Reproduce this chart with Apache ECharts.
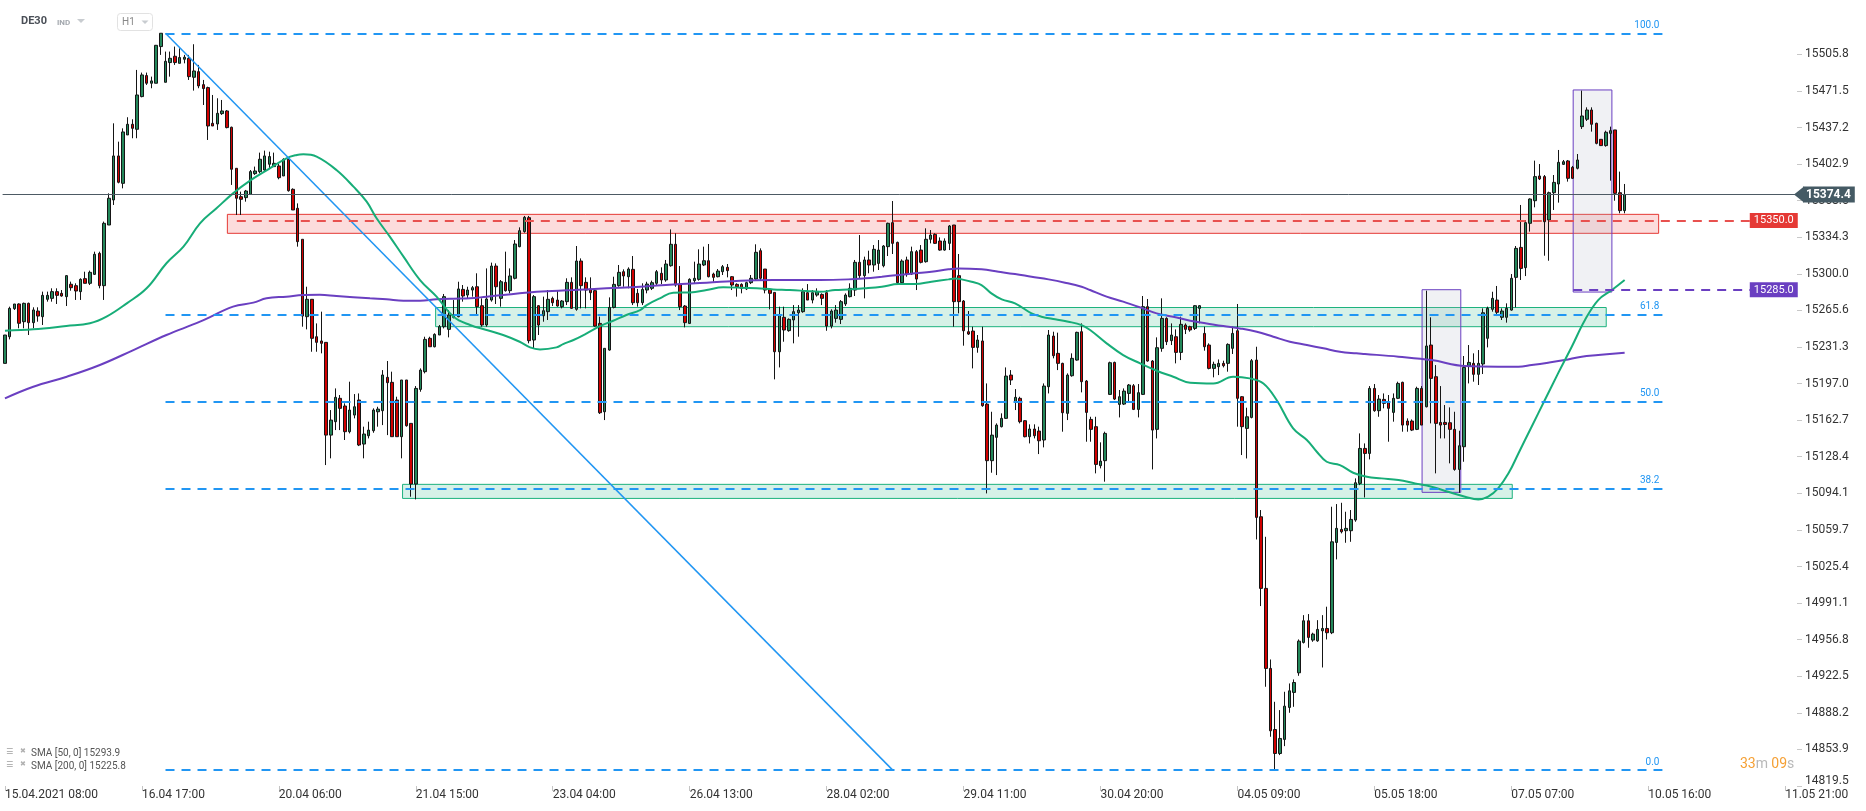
<!DOCTYPE html>
<html><head><meta charset="utf-8">
<script src="https://cdn.jsdelivr.net/npm/echarts@6/dist/echarts.min.js"></script>
<style>html,body{margin:0;padding:0;background:#fff;}#c{width:1866px;height:811px;}</style>
</head><body><div id="c"></div>
<script>
// ---- data ----
const xTickLabels = ['15.04.2021 08:00','16.04 17:00','20.04 06:00','21.04 15:00','23.04 04:00','26.04 13:00','28.04 02:00','29.04 11:00','30.04 20:00','04.05 09:00','05.05 18:00','07.05 07:00','10.05 16:00','11.05 21:00'];
const labelEvery = 29;
const slotCount = 380;
const yTicks = [14819.5,14853.9,14888.2,14922.5,14956.8,14991.1,15025.4,15059.7,15094.1,15128.4,15162.7,15197.0,15231.3,15265.6,15300.0,15334.3,15368.6,15402.9,15437.2,15471.5,15505.8];
// [open, close, low, high]
const candles = [
[15216.0,15242.6,15216.0,15242.6],[15241.0,15267.6,15238.5,15269.2],[15267.3,15271.7,15266.1,15271.7],[15271.7,15253.6,15248.9,15272.3],[15255.1,15272.3,15248.9,15273.0],
[15272.3,15254.2,15242.6,15273.0],[15254.2,15266.1,15248.9,15268.6],[15265.1,15260.4,15255.1,15268.6],[15259.8,15279.8,15252.0,15283.3],[15276.1,15279.8,15273.9,15283.3],
[15277.0,15283.3,15273.9,15286.4],[15283.3,15279.8,15271.7,15286.4],[15281.7,15279.2,15278.6,15284.8],[15278.6,15298.3,15269.8,15298.9],[15290.2,15287.0,15284.2,15292.7],
[15288.9,15283.9,15275.5,15291.1],[15283.3,15294.8,15275.5,15295.8],[15295.5,15291.1,15291.1,15302.0],[15291.1,15301.4,15289.5,15303.0],[15299.5,15318.3,15298.9,15320.8],
[15319.2,15288.9,15286.4,15320.8],[15288.9,15347.4,15275.5,15349.0],[15345.8,15370.9,15345.8,15375.5],[15369.3,15410.6,15364.6,15441.2],[15410.6,15385.9,15384.9,15424.0],
[15384.9,15433.1,15380.2,15436.5],[15430.3,15440.3,15430.3,15446.9],[15440.3,15436.5,15427.2,15445.0],[15435.6,15467.8,15427.2,15491.3],[15466.3,15486.6,15465.6,15488.8],
[15486.0,15478.8,15477.2,15488.8],[15478.8,15481.0,15474.1,15485.0],[15478.8,15514.4,15478.8,15514.7],[15513.2,15525.7,15505.4,15525.7],[15479.7,15499.4,15479.7,15508.5],
[15498.2,15502.2,15485.0,15508.5],[15504.1,15498.2,15496.0,15513.2],[15497.5,15502.9,15497.5,15511.6],[15501.3,15503.2,15497.5,15505.4],[15502.2,15485.0,15481.9,15505.4],
[15484.4,15490.3,15471.9,15515.4],[15489.7,15476.3,15474.1,15496.0],[15477.5,15473.8,15458.4,15481.9],[15474.7,15438.7,15425.6,15475.6],[15441.2,15438.7,15438.7,15467.8],
[15440.6,15450.6,15435.0,15464.7],[15450.3,15452.8,15449.1,15463.1],[15452.8,15437.2,15436.5,15453.7],[15437.5,15398.1,15383.4,15438.1],[15399.0,15370.9,15355.2,15399.0],
[15372.4,15369.9,15355.2,15377.1],[15371.5,15377.7,15367.7,15378.7],[15374.6,15395.9,15374.0,15397.4],[15394.0,15396.5,15392.8,15400.6],[15395.9,15407.5,15394.3,15413.7],
[15397.4,15410.6,15395.9,15415.6],[15402.8,15410.0,15399.0,15414.6],[15400.6,15403.7,15400.6,15413.7],[15401.2,15390.2,15388.7,15403.1],[15391.8,15407.4,15391.8,15408.4],
[15407.4,15378.0,15377.1,15408.4],[15379.3,15359.9,15359.9,15380.2],[15361.5,15330.2,15325.5,15366.1],[15332.4,15260.4,15250.4,15332.4],[15259.8,15276.1,15247.9,15287.9],
[15276.1,15239.5,15226.9,15276.1],[15241.0,15235.7,15226.9,15253.5],[15237.0,15234.8,15225.4,15264.5],[15235.7,15148.7,15120.6,15235.7],[15148.7,15162.8,15126.9,15172.2],
[15161.3,15184.1,15153.4,15192.5],[15183.2,15173.8,15153.4,15186.3],[15176.0,15151.9,15144.1,15178.5],[15151.9,15172.2,15150.3,15198.8],[15167.5,15175.3,15164.4,15187.2],
[15181.6,15139.4,15138.4,15187.8],[15140.3,15149.7,15126.9,15156.6],[15148.1,15153.4,15145.6,15161.3],[15152.8,15172.2,15150.9,15173.8],[15170.6,15173.1,15156.6,15175.3],
[15171.6,15205.1,15158.1,15209.7],[15202.9,15197.9,15148.7,15218.2],[15198.2,15147.2,15147.2,15208.2],[15181.6,15147.2,15147.2,15184.7],[15147.2,15200.4,15126.9,15200.4],
[15200.4,15157.5,15156.6,15200.4],[15159.7,15102.8,15090.9,15159.7],[15102.8,15192.5,15088.4,15194.7],[15191.6,15209.7,15189.4,15211.3],[15208.2,15238.5,15206.6,15241.0],
[15239.5,15231.6,15231.6,15241.0],[15231.6,15243.2,15231.0,15244.2],[15242.6,15250.4,15242.6,15252.0],[15250.4,15278.6,15248.8,15281.1],[15247.9,15261.4,15240.4,15266.0],
[15259.2,15261.7,15258.2,15275.4],[15259.8,15285.8,15259.2,15292.6],[15285.4,15279.2,15273.9,15289.5],[15280.1,15284.8,15277.0,15287.9],[15284.8,15287.0,15278.6,15288.6],
[15287.9,15269.2,15261.4,15300.5],[15270.1,15252.0,15250.4,15277.0],[15252.0,15276.4,15250.4,15305.1],[15275.4,15307.3,15273.9,15310.5],[15307.3,15287.9,15271.7,15309.8],
[15277.0,15292.6,15269.2,15294.2],[15292.0,15284.2,15283.3,15320.8],[15284.2,15298.0,15281.7,15305.1],[15295.8,15328.0,15294.8,15331.7],[15325.5,15340.5,15324.9,15343.6],
[15339.6,15353.0,15338.6,15354.3],[15352.7,15237.3,15234.8,15354.3],[15237.9,15278.6,15230.1,15280.1],[15270.1,15252.0,15242.6,15270.7],[15260.7,15265.4,15255.1,15278.6],
[15264.5,15276.1,15256.7,15284.8],[15277.0,15272.9,15269.8,15278.6],[15275.4,15269.8,15269.2,15284.8],[15269.2,15274.5,15267.6,15275.4],[15273.9,15292.0,15270.7,15295.8],
[15292.0,15267.6,15267.0,15296.7],[15266.7,15312.0,15265.4,15326.1],[15312.0,15288.9,15267.6,15314.5],[15292.0,15284.8,15267.6,15296.7],[15285.8,15282.3,15275.4,15296.7],
[15284.2,15251.0,15250.4,15284.8],[15253.5,15169.7,15168.5,15259.8],[15170.6,15230.1,15162.8,15230.1],[15228.5,15268.5,15227.9,15277.9],[15268.5,15290.1,15267.6,15297.3],
[15288.9,15301.4,15287.9,15308.3],[15302.0,15298.0,15287.9,15304.2],[15297.3,15304.5,15286.4,15306.1],[15304.2,15272.9,15270.7,15316.7],[15281.7,15272.9,15269.2,15285.8],
[15272.9,15285.4,15270.7,15291.1],[15284.8,15290.4,15281.7,15292.6],[15286.4,15291.7,15284.8,15293.6],[15291.1,15302.0,15289.5,15303.6],[15300.5,15294.2,15290.4,15306.1],
[15294.2,15309.2,15292.6,15313.0],[15307.6,15327.7,15306.7,15341.7],[15327.7,15289.5,15287.9,15338.0],[15290.1,15269.2,15266.0,15307.3],[15269.8,15254.2,15249.8,15270.7],
[15253.5,15294.8,15252.9,15295.8],[15293.6,15295.8,15291.1,15311.4],[15294.8,15309.2,15293.6,15323.0],[15308.3,15312.3,15307.3,15325.5],[15312.3,15297.3,15296.7,15328.0],
[15299.8,15296.7,15292.6,15301.1],[15297.3,15302.6,15296.7,15304.5],[15302.0,15306.7,15298.9,15308.3],[15306.1,15303.0,15296.7,15309.2],[15297.3,15289.5,15284.8,15297.9],
[15290.1,15287.9,15278.6,15291.1],[15290.1,15286.4,15281.7,15291.1],[15285.8,15291.7,15284.8,15292.6],[15291.7,15295.8,15290.4,15298.9],[15295.1,15320.2,15294.2,15327.7],
[15321.7,15295.8,15294.2,15323.9],[15304.5,15284.8,15281.7,15304.5],[15285.4,15281.7,15266.7,15286.4],[15282.6,15226.9,15201.0,15282.6],[15226.9,15261.4,15212.2,15269.2],
[15259.2,15247.3,15236.3,15269.2],[15246.7,15257.3,15245.7,15258.2],[15256.7,15264.5,15234.8,15270.7],[15263.5,15266.0,15241.0,15270.7],[15264.5,15283.3,15263.5,15286.4],
[15282.3,15275.4,15275.4,15290.4],[15275.4,15282.3,15272.3,15284.8],[15280.1,15283.2,15278.6,15286.4],[15280.7,15277.0,15270.7,15281.7],[15282.3,15251.0,15246.6,15284.8],
[15251.0,15265.1,15248.8,15266.7],[15258.2,15266.0,15254.2,15270.7],[15257.3,15273.9,15252.9,15275.4],[15271.7,15280.1,15269.8,15281.7],[15278.6,15286.4,15277.9,15291.1],
[15284.8,15310.8,15279.2,15313.0],[15310.8,15298.3,15295.1,15336.4],[15298.3,15313.0,15277.0,15316.1],[15313.0,15308.3,15300.5,15321.7],[15308.3,15323.0,15302.0,15327.0],
[15309.8,15322.3,15303.6,15331.7],[15307.6,15326.1,15306.1,15327.0],[15325.5,15347.4,15316.7,15348.0],[15348.0,15328.6,15318.6,15368.3],[15329.5,15291.7,15290.4,15330.2],
[15291.7,15312.0,15291.1,15313.6],[15313.0,15299.8,15297.3,15316.1],[15299.8,15320.8,15298.9,15325.5],[15320.8,15295.1,15284.8,15322.3],[15322.3,15310.8,15309.8,15327.0],
[15311.4,15332.4,15310.5,15342.7],[15332.4,15336.4,15328.6,15341.1],[15337.0,15328.6,15328.0,15338.0],[15330.8,15322.3,15321.7,15334.2],[15322.3,15330.8,15321.7,15333.3],
[15328.6,15344.9,15322.3,15345.8],[15345.8,15273.9,15250.4,15345.8],[15298.3,15273.9,15262.9,15318.6],[15274.5,15246.6,15232.6,15275.4],[15245.7,15243.5,15242.6,15265.1],
[15246.3,15231.0,15211.3,15250.4],[15231.0,15237.9,15226.0,15242.6],[15237.0,15176.3,15175.3,15250.4],[15177.8,15124.7,15094.0,15197.2],[15124.7,15148.7,15113.4,15170.6],
[15146.6,15158.1,15111.2,15159.7],[15156.6,15164.4,15155.9,15169.1],[15164.4,15204.1,15163.8,15212.2],[15205.0,15200.4,15195.7,15209.7],[15179.4,15184.1,15172.2,15191.9],
[15183.2,15161.3,15159.7,15184.7],[15162.2,15147.2,15146.6,15162.8],[15147.2,15154.4,15140.9,15158.8],[15154.4,15148.1,15145.6,15158.8],[15152.5,15143.4,15130.9,15156.6],
[15144.1,15194.7,15137.2,15197.2],[15194.1,15242.6,15187.8,15247.3],[15241.6,15223.2,15220.7,15245.7],[15225.4,15216.0,15209.7,15244.8],[15216.0,15169.7,15151.9,15216.6],
[15169.1,15205.0,15162.8,15206.6],[15204.4,15220.7,15203.5,15225.4],[15219.1,15245.1,15218.5,15245.7],[15245.7,15198.8,15188.8,15253.5],[15199.4,15170.0,15142.5,15200.4],
[15163.4,15154.1,15142.5,15165.9],[15156.6,15121.2,15112.8,15165.9],[15120.0,15124.3,15117.5,15141.9],[15124.7,15150.3,15105.0,15151.9],[15186.9,15216.6,15186.3,15217.6],
[15216.9,15182.5,15181.6,15217.6],[15177.5,15184.7,15165.3,15191.0],[15177.8,15190.0,15176.9,15192.5],[15187.8,15195.7,15179.1,15196.6],[15195.0,15172.8,15172.2,15196.6],
[15172.8,15188.5,15165.3,15196.6],[15186.9,15269.2,15186.3,15279.2],[15269.2,15218.2,15217.6,15276.4],[15218.2,15153.4,15116.5,15219.1],[15154.1,15230.7,15145.6,15240.4],
[15230.1,15258.2,15226.9,15277.0],[15258.2,15236.3,15233.2,15259.2],[15237.3,15242.6,15233.2,15253.5],[15241.0,15226.3,15216.0,15247.9],[15226.3,15252.6,15219.1,15259.8],
[15252.0,15247.9,15243.5,15253.5],[15250.4,15247.3,15245.7,15251.3],[15248.8,15270.1,15247.3,15270.7],[15267.6,15270.1,15253.5,15270.7],[15244.1,15231.6,15227.9,15250.4],
[15233.2,15211.3,15210.4,15234.8],[15211.3,15215.1,15202.9,15217.6],[15212.9,15216.0,15205.0,15219.7],[15216.0,15213.8,15212.2,15218.5],[15216.0,15233.8,15208.2,15234.8],
[15230.1,15244.1,15224.8,15250.4],[15246.6,15183.2,15156.6,15271.7],[15184.7,15156.6,15130.0,15185.3],[15155.0,15165.9,15126.8,15174.4],[15165.3,15218.5,15164.4,15220.1],
[15219.1,15071.5,15050.8,15231.6],[15072.1,15004.9,14988.3,15078.4],[15004.9,14929.8,14912.6,15053.3],[14929.8,14871.3,14865.7,14938.2],[14872.5,14850.0,14835.0,14898.5],
[14850.0,14864.1,14848.5,14890.7],[14863.2,14894.4,14856.9,14907.9],[14893.2,14908.8,14888.2,14915.7],[14907.3,14916.6,14893.8,14919.5],[14925.7,14955.4,14922.9,14957.0],
[14954.2,14974.5,14953.2,14979.8],[14974.5,14958.9,14949.2,14980.8],[14956.4,14962.0,14954.8,14963.3],[14955.7,14966.4,14954.8,14975.1],[14965.1,14967.3,14930.7,14979.8],
[14967.3,14963.3,14957.0,14987.7],[14963.3,15048.6,14962.0,15081.5],[15048.0,15061.2,15032.1,15084.0],[15060.2,15058.0,15056.5,15085.2],[15059.0,15061.2,15047.7,15076.8],
[15059.0,15069.6,15048.6,15078.4],[15069.0,15104.0,15067.4,15108.1],[15103.4,15136.2,15101.8,15150.3],[15136.2,15131.5,15090.2,15140.9],[15131.5,15192.5,15125.9,15194.7],
[15192.5,15171.6,15170.6,15196.6],[15171.6,15182.5,15165.9,15186.3],[15182.2,15178.5,15173.8,15187.8],[15180.0,15173.8,15142.5,15186.3],[15170.0,15183.2,15161.3,15187.8],
[15183.2,15197.2,15182.5,15198.8],[15198.2,15158.1,15151.9,15198.8],[15161.9,15158.1,15151.9,15164.4],[15161.9,15153.4,15152.5,15163.4],[15154.1,15192.5,15153.4,15194.1],
[15192.5,15158.1,15158.1,15194.7],[15175.3,15232.3,15174.7,15284.2],[15233.2,15201.9,15159.7,15259.2],[15203.5,15159.7,15112.8,15214.4],[15160.6,15158.1,15145.6,15194.7],
[15160.6,15158.7,15145.6,15176.9],[15160.3,15154.1,15122.2,15174.7],[15154.1,15116.5,15115.3,15170.6],[15116.5,15138.7,15094.6,15152.8],[15137.8,15212.2,15123.7,15222.9],
[15213.5,15216.9,15197.2,15233.2],[15216.0,15205.7,15198.8,15225.4],[15205.7,15216.0,15195.7,15228.5],[15215.4,15263.5,15206.0,15267.6],[15239.5,15267.6,15231.0,15269.2],
[15266.7,15277.0,15264.5,15283.2],[15275.4,15263.9,15260.4,15288.6],[15259.2,15265.1,15256.7,15267.6],[15259.2,15267.6,15254.2,15272.3],[15266.0,15295.8,15265.4,15299.8],
[15296.7,15323.9,15268.5,15326.1],[15324.8,15305.1,15294.2,15364.6],[15305.8,15348.0,15297.9,15350.5],[15347.4,15370.2,15339.6,15370.8],[15368.6,15391.2,15362.4,15406.2],
[15391.8,15389.0,15388.0,15403.0],[15391.2,15348.9,15317.0,15392.7],[15350.5,15376.1,15312.3,15377.1],[15376.1,15385.8,15359.9,15392.7],[15384.3,15404.6,15366.8,15416.2],
[15402.7,15405.2,15402.1,15406.8],[15405.9,15389.6,15386.5,15406.8],[15399.9,15389.6,15389.0,15401.2],[15399.0,15406.8,15398.0,15412.4],[15438.1,15448.1,15435.9,15471.9],
[15445.0,15453.7,15443.4,15456.2],[15453.7,15440.3,15433.4,15456.2],[15441.2,15422.4,15421.5,15441.8],[15426.2,15420.3,15419.9,15426.2],[15420.3,15432.8,15419.3,15434.3],
[15431.8,15434.3,15387.4,15438.1],[15435.0,15375.5,15368.6,15435.0],[15376.1,15359.3,15356.8,15395.9],[15359.3,15374.4,15356.8,15384.3]
];
// moving averages read at sample points: [candle index, value]
const sma50 = [[0,15246.7],[6,15247.9],[13,15251.1],[18,15253.6],[21.5,15259.8],[25.8,15272.3],[30,15286.4],[34.2,15309.9],[37.8,15325.5],[41.3,15347.4],[44.8,15361.5],[48.3,15375.5],[51.9,15387.4],[55.4,15397.0],[59.6,15408.4],[61.8,15411.5],[63.2,15412.1],[66,15409.9],[70.2,15397.4],[73.8,15381.8],[76.6,15367.7],[78.7,15352.1],[81.5,15334.9],[84.4,15316.1],[87.9,15294.2],[91.4,15278.6],[95,15259.8],[98.5,15252.0],[102,15247.3],[105.5,15242.6],[109,15236.3],[111.2,15231.0],[113.3,15229.1],[116.8,15231.0],[118.2,15234.1],[120.4,15237.9],[123.2,15244.1],[126,15251.0],[128.8,15256.0],[131.6,15261.4],[134.5,15266.0],[135.9,15270.7],[138.7,15277.0],[141.5,15282.3],[145.1,15282.6],[148.6,15284.8],[152.1,15287.3],[155.7,15287.0],[159.2,15286.4],[162.7,15285.4],[166.2,15284.8],[169.8,15283.9],[172.6,15283.2],[175.8,15284.8],[178.6,15285.4],[182.1,15286.4],[185.7,15287.9],[189.2,15290.4],[192.7,15290.4],[196.2,15292.6],[199.8,15294.8],[201.2,15295.7],[202.6,15294.8],[204.7,15292.6],[206.8,15289.5],[208.9,15281.7],[211.1,15276.0],[213.9,15272.3],[217.4,15262.9],[219.5,15259.8],[222.4,15257.3],[225.2,15255.1],[228,15251.9],[229.8,15247.3],[233.3,15234.8],[236.8,15223.8],[240.4,15216.0],[243.9,15209.1],[247.4,15203.5],[251,15197.9],[255.9,15197.2],[260.1,15203.5],[263.6,15201.9],[266.5,15197.2],[269.3,15181.6],[272.8,15155.0],[275.7,15144.1],[277.8,15133.1],[279.9,15123.7],[282.7,15120.6],[285.5,15113.4],[288.4,15109.6],[291.5,15108.1],[295.1,15106.5],[298.6,15103.4],[302.1,15100.3],[305.6,15095.6],[309.2,15090.9],[312,15088.4],[314.1,15090.9],[316.2,15098.7],[318.4,15112.8],[320.5,15131.5],[323.3,15156.6],[326.1,15181.6],[328.9,15206.6],[331.8,15231.6],[334.6,15256.7],[337.4,15275.4],[340.3,15284.8],[343,15294.2]];
const sma200 = [[0,15183.2],[6,15194.1],[13.1,15203.5],[20.1,15214.5],[27.2,15228.5],[34.2,15242.6],[41.3,15255.1],[48.3,15269.2],[52.6,15273.0],[55.4,15277.0],[59.6,15278.6],[63.2,15280.1],[66.7,15280.4],[70.2,15279.2],[77.3,15277.0],[80.8,15276.1],[84.4,15274.8],[87.9,15274.8],[91.4,15276.1],[95,15276.7],[98.5,15277.0],[102,15278.6],[105.5,15280.1],[109,15281.7],[112.6,15283.2],[120.4,15284.8],[127.4,15286.4],[134.5,15287.9],[141.5,15290.1],[148.6,15291.7],[155.7,15293.6],[162.7,15294.2],[172.6,15294.2],[178.6,15294.8],[182.1,15295.8],[185.7,15297.3],[189.2,15298.9],[192.7,15300.5],[196.2,15302.0],[199.8,15304.2],[201.9,15305.1],[206.8,15304.2],[210.4,15302.0],[213.9,15299.8],[217.4,15297.3],[221,15294.8],[224.5,15291.7],[228,15287.9],[229.8,15284.8],[233.3,15278.6],[236.8,15273.9],[240.4,15268.5],[243.9,15262.9],[247.4,15259.8],[251,15256.0],[254.5,15253.5],[258,15251.0],[261.5,15248.8],[265.1,15245.7],[268.6,15241.0],[272.1,15236.3],[275.7,15233.2],[279.2,15230.1],[282.7,15226.9],[286.2,15225.4],[288,15224.8],[295.1,15222.3],[302.1,15219.1],[309.2,15213.5],[316.2,15212.9],[320.5,15212.9],[323.3,15214.4],[326.8,15216.6],[330.3,15219.1],[333.9,15222.3],[337.4,15223.8],[343,15226.0]];
const fibNames = ['100.0','61.8','50.0','38.2','0.0'];
const fibLevels = [15525.7,15261.6,15180.1,15098.5,14834.4];
const fibSpan = [34, 351];
const trendLine = [[34, 15525.7],[188, 14834.4]];
const redZone = [47.1, 350.2, 15338.0, 15355.8];
const greenZones = [[91.2, 339.1, 15250.4, 15268.4],[84.2, 319.2, 15089.3, 15102.5]];
const boxes = [[300.1, 308.3, 15095.0, 15285.1],[332.1, 340.3, 15282.9, 15472.5]];
const redLevel = {price: 15350.0, from: 49.1, to: 369.5};
const purpleLevel = {price: 15285.0, from: 332.1, to: 369.5};
const lastPrice = 15374.4;
const smaLegend = ['SMA [50, 0] 15293.9','SMA [200, 0] 15225.8'];

// ---- chart ----
const categories = Array.from({length: slotCount}, (_, i) => (i % labelEvery === 0 && xTickLabels[i / labelEvery]) ? xTickLabels[i / labelEvery] : ('#' + i));
const showTick = (idx) => idx % labelEvery === 0 && idx / labelEvery < xTickLabels.length;
const FONT = 'Roboto';

function areaItem(r, fill, border) {
  return [{coord: [r[0], r[3]], itemStyle: {color: fill, borderColor: border, borderWidth: 1}}, {coord: [r[1], r[2]]}];
}
function levelLine(lv, color, bg) {
  return [{coord: [lv.from, lv.price], lineStyle: {color: color, type: [9, 7], width: 2},
    label: {show: true, position: 'end', distance: 0, formatter: lv.price.toFixed(1), backgroundColor: bg, color: '#fff',
      fontSize: 11, fontFamily: FONT, padding: [2, 4, 2, 4], lineHeight: 11}}, {coord: [lv.to, lv.price]}];
}

const chart = echarts.init(document.getElementById('c'), null, {width: 1866, height: 811});
chart.setOption({
  animation: false,
  backgroundColor: '#fff',
  textStyle: {fontFamily: FONT},
  grid: {left: 2.6, top: 0, width: 1794.4, height: 786},
  xAxis: [{
    type: 'category', data: categories, boundaryGap: true,
    axisLine: {show: false, onZero: false},
    axisTick: {show: true, alignWithLabel: true, interval: showTick, length: 5, lineStyle: {color: '#c4c4c4'}},
    axisLabel: {interval: showTick, align: 'left', color: '#333', fontSize: 12, margin: 3, fontFamily: FONT},
    splitLine: {show: false}
  }, {
    type: 'value', min: -0.5, max: slotCount - 0.5, show: false, axisLine: {onZero: false}
  }],
  yAxis: {
    type: 'value', position: 'right', min: 14819.5, max: 15556.9,
    splitLine: {show: false}, axisLine: {show: false, onZero: false},
    axisTick: {show: true, length: 5, customValues: yTicks, lineStyle: {color: '#c8c8c8'}},
    axisLabel: {customValues: yTicks, margin: 8, color: '#333', fontSize: 12, fontFamily: FONT,
      formatter: (v) => v === yTicks[0] ? '{lo|' + v.toFixed(1) + '}' : v.toFixed(1),
      rich: {lo: {fontSize: 12, color: '#333', fontFamily: FONT, padding: [0, 0, 10, 0]}}}
  },
  series: [
    { // zones and boxes
      type: 'line', xAxisIndex: 1, data: [], z: 1, silent: true,
      markArea: {silent: true, data: [
        areaItem(redZone, 'rgba(240,80,80,0.2)', '#e53935'),
        areaItem(greenZones[0], 'rgba(38,178,128,0.19)', '#1db27e'),
        areaItem(greenZones[1], 'rgba(38,178,128,0.19)', '#1db27e'),
        areaItem(boxes[0], 'rgba(170,178,195,0.18)', '#6a3fc1'),
        areaItem(boxes[1], 'rgba(170,178,195,0.18)', '#6a3fc1')
      ]}
    },
    {
      type: 'candlestick', name: 'DE30', data: candles, barWidth: 3, z: 2,
      itemStyle: {color: '#23875a', color0: '#d00000', borderColor: '#151515', borderColor0: '#151515', borderWidth: 1}
    },
    {
      type: 'line', name: 'SMA200', xAxisIndex: 1, data: sma200, smooth: 0.4, showSymbol: false, z: 3,
      lineStyle: {color: '#6a3fc1', width: 2}
    },
    {
      type: 'line', name: 'SMA50', xAxisIndex: 1, data: sma50, smooth: 0.4, showSymbol: false, z: 3,
      lineStyle: {color: '#17ad78', width: 2}
    },
    { // lines, levels, labels
      type: 'line', xAxisIndex: 1, data: [], z: 4, silent: true,
      markLine: {
        silent: true, symbol: ['none', 'none'],
        data: [
          ...fibLevels.map((v, k) => [{coord: [fibSpan[0], v], lineStyle: {color: '#2196f3', type: [9, 7], width: 2},
            label: {show: true, position: 'insideEndTop', distance: 3, formatter: fibNames[k], color: '#2196f3', fontSize: 10, fontFamily: FONT}},
            {coord: [fibSpan[1], v]}]),
          [{coord: trendLine[0], lineStyle: {color: '#2196f3', type: 'solid', width: 1.5}, label: {show: false}}, {coord: trendLine[1]}],
          levelLine(redLevel, '#e8514f', '#e53935'),
          levelLine(purpleLevel, '#6a3fc1', '#6a3fc1'),
          {yAxis: lastPrice, lineStyle: {color: '#4d5a64', type: 'solid', width: 1},
            label: {show: true, position: 'end', distance: 6, formatter: lastPrice.toFixed(1), backgroundColor: '#455a64', color: '#fff',
              fontWeight: 'bold', fontSize: 12, fontFamily: FONT, padding: [2, 4, 2, 3], lineHeight: 12}}
        ]
      },
      markPoint: {
        silent: true,
        data: [{coord: [slotCount - 0.5, lastPrice], symbol: 'path://M0,8 L10,0 L10,16 Z', symbolSize: [10, 16], symbolOffset: [2, 0],
          itemStyle: {color: '#455a64'}, label: {show: false}}]
      }
    }
  ],
  graphic: [
    {type: 'text', left: 21, top: 16, style: {text: 'DE30', font: 'bold 11px Roboto', fill: '#4a4f57'}},
    {type: 'text', left: 57, top: 19, style: {text: 'IND', font: 'bold 8px Roboto', fill: '#a3a8ae'}},
    {type: 'polygon', shape: {points: [[77, 19], [85, 19], [81, 23]]}, style: {fill: '#c8ccd0'}},
    {type: 'rect', shape: {x: 117.5, y: 13.5, width: 35, height: 17, r: 3}, style: {fill: '#fff', stroke: '#e2e2e2', lineWidth: 1}},
    {type: 'text', left: 122, top: 17, style: {text: 'H1', font: '10px Roboto', fill: '#888'}},
    {type: 'polygon', shape: {points: [[141.5, 20.5], [148.5, 20.5], [145, 24]]}, style: {fill: '#c8ccd0'}},
    {type: 'text', left: 6, top: 748, style: {text: '☰', font: '8px "DejaVu Sans"', fill: '#a0a0a0'}},
    {type: 'text', left: 20, top: 748, style: {text: '✖', font: '7px "DejaVu Sans"', fill: '#b0b0b0'}},
    {type: 'text', left: 31, top: 748, style: {text: smaLegend[0], font: '10px Roboto', fill: '#555'}},
    {type: 'text', left: 6, top: 761, style: {text: '☰', font: '8px "DejaVu Sans"', fill: '#a0a0a0'}},
    {type: 'text', left: 20, top: 761, style: {text: '✖', font: '7px "DejaVu Sans"', fill: '#b0b0b0'}},
    {type: 'text', left: 31, top: 761, style: {text: smaLegend[1], font: '10px Roboto', fill: '#555'}},
    {type: 'text', left: 1740, top: 757, style: {
      text: '{o|33}{g|m} {o|09}{g|s}',
      rich: {o: {fontSize: 14, fill: '#f5a035', fontFamily: FONT}, g: {fontSize: 14, fill: '#b8b8b8', fontFamily: FONT}}
    }}
  ]
});
</script>
</body></html>
